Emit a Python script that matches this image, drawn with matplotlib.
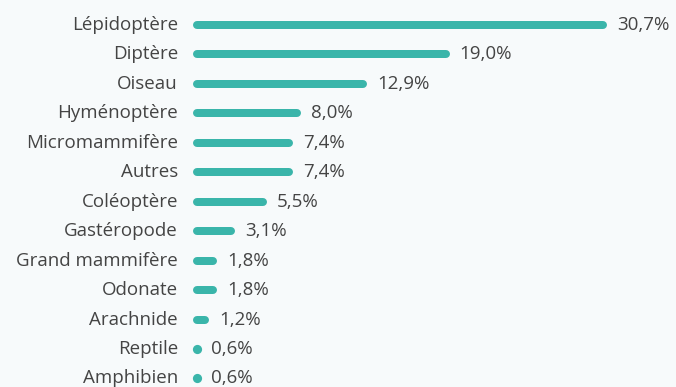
import matplotlib.pyplot as plt

categories = ['Lépidoptère', 'Diptère', 'Oiseau', 'Hyménoptère', 'Micromammifère',
              'Autres', 'Coléoptère', 'Gastéropode', 'Grand mammifère', 'Odonate',
              'Arachnide', 'Reptile', 'Amphibien']
values = [30.7, 19.0, 12.9, 8.0, 7.4, 7.4, 5.5, 3.1, 1.8, 1.8, 1.2, 0.6, 0.6]

W, H = 676, 387
DPI = 100
BG = '#f7fafb'
TEAL = '#3ab5aa'
TXT = '#444444'

x0_px = 193        # where the bars start
px_per_unit = 13.5 # bar length scale
row0_px = 25       # centre of first row from top
row_px = 29.45     # row spacing
thick_px = 8       # bar thickness

plt.rcParams['font.family'] = ['Open Sans', 'DejaVu Sans']

fig = plt.figure(figsize=(W / DPI, H / DPI), dpi=DPI, facecolor=BG)
ax = fig.add_axes([x0_px / W, 0, 1 - x0_px / W, 1])
ax.set_facecolor(BG)
ax.set_xlim(0, (W - x0_px) / px_per_unit)
ax.set_ylim((H - row0_px) / row_px, -row0_px / row_px)
ax.axis('off')

r = thick_px / 2 / px_per_unit
lw = thick_px * 72 / DPI
for i, (cat, v) in enumerate(zip(categories, values)):
    if v > 3 * r:
        ax.plot([r, v - r], [i, i], color=TEAL, lw=lw, solid_capstyle='round',
                clip_on=False)
    else:
        # too short for a bar, draw a dot instead
        ax.plot([v / 2], [i], marker='o', linestyle='none', color=TEAL,
                markersize=lw * 1.15, markeredgewidth=0, clip_on=False)
    ax.annotate(cat, (0, i), xytext=(-15, 0), textcoords='offset pixels',
                ha='right', va='center', fontsize=13.5, color=TXT,
                annotation_clip=False)
    ax.annotate(f'{v:.1f}%'.replace('.', ','), (v, i), xytext=(10, 0),
                textcoords='offset pixels', ha='left', va='center',
                fontsize=13.5, color=TXT, annotation_clip=False)

fig.savefig('out.png', dpi=DPI, facecolor=BG)
